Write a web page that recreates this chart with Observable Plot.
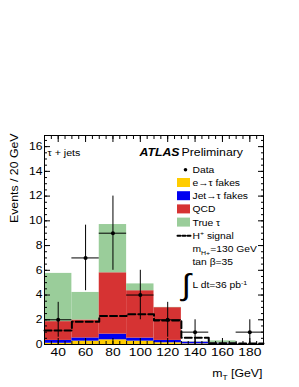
<!DOCTYPE html>
<html><head><meta charset="utf-8">
<script src="https://cdn.jsdelivr.net/npm/d3@7"></script>
<script src="https://cdn.jsdelivr.net/npm/@observablehq/plot@0.6"></script>
<style>
body{margin:0;background:#fff}
svg{font-family:"Liberation Sans",Arial,Helvetica,sans-serif}
</style>
</head><body><div id="chart"></div>
<script>
// ---- data ----
const binLow = [30, 50, 70, 90, 110, 130, 150, 170];
const binWidth = 20;
const components = ["e→τ fakes", "Jet→τ fakes", "QCD", "True τ"];
const componentColors = ["#ffcc00", "#0000f0", "#d63333", "#9acd9a"];
const eFakes   = [0.10, 0.27, 0.38, 0.27, 0.14, 0.05, 0.04, 0.02];
const jetFakes = [0.23, 0.26, 0.46, 0.25, 0.19, 0.14, 0.06, 0.02];
const qcd      = [1.52, 1.45, 4.96, 3.83, 2.65, 0.01, 0.02, 0.01];
const trueTau  = [3.90, 2.23, 3.90, 0.55, 0.02, 0.03, 0.17, 0.02];
const signal   = [1.13, 1.84, 2.30, 2.44, 1.94, 0.54, 0.10, 0.08];
const dataX   = [40, 60, 80, 100, 120, 140, 180];
const dataY   = [2, 7, 9, 4, 2, 1, 1];
const dataErr = [1.41, 2.65, 3.0, 2.0, 1.41, 1.0, 1.0];
const xTicks = [40, 60, 80, 100, 120, 140, 160, 180];
const xMinorTicks = [30,35,40,45,50,55,60,65,70,75,80,85,90,95,100,105,110,115,120,125,130,135,140,145,150,155,160,165,170,175,180,185,190];
const yTicks = [0, 2, 4, 6, 8, 10, 12, 14, 16];
const yMinorTicks = [0,0.5,1,1.5,2,2.5,3,3.5,4,4.5,5,5.5,6,6.5,7,7.5,8,8.5,9,9.5,10,10.5,11,11.5,12,12.5,13,13.5,14,14.5,15,15.5,16,16.5];
const legendLabels = ["Data", "e→τ fakes", "Jet→τ fakes", "QCD", "True τ", "H^{+} signal", "m_{H+}=130 GeV", "tan β=35"];
const lumiText = "L dt=36 pb^{-1}";

// ---- tables built from the arrays ----
const series = [eFakes, jetFakes, qcd, trueTau];
const stackTable = [];
binLow.forEach((lo, i) => components.forEach((c, k) =>
  stackTable.push({lo, hi: lo + binWidth, v: series[k][i], comp: c})));
const signalSteps = binLow.map((lo, i) => ({x: lo, y: signal[i]}))
  .concat([{x: binLow[binLow.length - 1] + binWidth, y: signal[signal.length - 1]}]);
const dataTable = dataX.map((x, i) => ({x, y: dataY[i], e: dataErr[i]}));

const rowY = i => 34.3 + 13.2 * i;
const lineShape = {draw(ctx, l) { ctx.moveTo(0, 0); ctx.lineTo(0, -l); }};
const legendFont = 9.2;

const marks = [
  Plot.rectY(stackTable, {x1: "lo", x2: "hi", y: "v", fill: "comp"}),
  Plot.line(signalSteps, {x: "x", y: "y", curve: "step-after", stroke: "black", strokeWidth: 2, strokeDasharray: "7,3"}),
  Plot.ruleX(dataTable, {x: "x", y1: d => d.y - d.e, y2: d => d.y + d.e, stroke: "black", strokeWidth: 1}),
  Plot.ruleY(dataTable, {y: "y", x1: d => d.x - binWidth / 2, x2: d => d.x + binWidth / 2, stroke: "black", strokeWidth: 1}),
  Plot.dot(dataTable, {x: "x", y: "y", r: 2, fill: "black", stroke: "none"}),
  Plot.frame({stroke: "black", strokeWidth: 1}),
  // axes with inward ticks
  Plot.axisX({anchor: "bottom", ticks: xTicks, tickSize: -6, tickPadding: 10, label: null, fontSize: 10.8}),
  Plot.axisX({anchor: "bottom", ticks: xMinorTicks, tickSize: -3, tickFormat: () => "", label: null}),
  Plot.axisX({anchor: "top", ticks: xTicks, tickSize: -6, tickFormat: () => "", label: null}),
  Plot.axisX({anchor: "top", ticks: xMinorTicks, tickSize: -3, tickFormat: () => "", label: null}),
  Plot.axisY({anchor: "left", ticks: yTicks, tickSize: -6, tickPadding: 8, label: null, fontSize: 10.5}),
  Plot.axisY({anchor: "left", ticks: yMinorTicks, tickSize: -3, tickFormat: () => "", label: null}),
  Plot.axisY({anchor: "right", ticks: yTicks, tickSize: -6, tickFormat: () => "", label: null}),
  Plot.axisY({anchor: "right", ticks: yMinorTicks, tickSize: -3, tickFormat: () => "", label: null}),
  // axis titles
  Plot.text(["Events / 20 GeV"], {frameAnchor: "top-left", dx: -30, dy: -2, rotate: -90, textAnchor: "end", lineAnchor: "middle", fontSize: 11, text: d => d}),
  Plot.text(["m_{T} [GeV]"], {frameAnchor: "bottom-right", dx: -1, dy: 32, textAnchor: "end", lineAnchor: "bottom", fontSize: 11, text: d => d}),
  // labels
  Plot.text(["τ + jets"], {frameAnchor: "top-left", dx: 3, dy: 20, textAnchor: "start", lineAnchor: "bottom", fontSize: 9.5, text: d => d}),
  Plot.text(["ATLAS"], {frameAnchor: "top-left", dx: 95, dy: 20, textAnchor: "start", lineAnchor: "bottom", fontSize: 11, fontWeight: "bold", fontStyle: "italic", ariaLabel: "atlas", text: d => d}),
  Plot.text(["Preliminary"], {frameAnchor: "top-left", dx: 137, dy: 20, textAnchor: "start", lineAnchor: "bottom", fontSize: 11, text: d => d}),
  // legend
  Plot.dot([0], {frameAnchor: "top-left", dx: 141, dy: rowY(0), r: 1.8, fill: "black", stroke: "none"}),
  ...components.map((c, k) => Plot.rect([c], {
    insetLeft: 133, insetRight: 73,
    insetTop: rowY(k + 1) - 4.5, insetBottom: 209 - rowY(k + 1) - 4.5,
    fill: componentColors[k]
  })),
  Plot.vector([0], {frameAnchor: "top-left", dx: 133, dy: rowY(5), length: 13, rotate: 90, anchor: "start", shape: lineShape, stroke: "black", strokeWidth: 2, strokeDasharray: "3,2"}),
  ...legendLabels.map((s, i) => Plot.text([s], {frameAnchor: "top-left", dx: 148, dy: rowY(i), textAnchor: "start", lineAnchor: "middle", fontSize: legendFont, text: d => d})),
  Plot.text(["∫"], {frameAnchor: "top-left", dx: 141.5, dy: 150, textAnchor: "middle", lineAnchor: "middle", fontSize: 30, ariaLabel: "integral", text: d => d}),
  Plot.text([lumiText], {frameAnchor: "top-left", dx: 148, dy: 150, textAnchor: "start", lineAnchor: "middle", fontSize: legendFont, text: d => d})
];

const chart = Plot.plot({
  width: 299, height: 387,
  marginLeft: 44, marginRight: 36, marginTop: 135, marginBottom: 43,
  style: {background: "white", fontFamily: "'Liberation Sans', Arial, Helvetica, sans-serif", overflow: "visible"},
  x: {domain: [30, 190]},
  y: {domain: [0, 16.9]},
  color: {domain: components, range: componentColors},
  marks
});
document.getElementById("chart").appendChild(chart);

// sub/superscripts as tspans
function richText(svg) {
  svg.querySelectorAll("text").forEach(t => {
    const s = t.textContent;
    if (!/[_^]\{/.test(s)) return;
    const fs = parseFloat(getComputedStyle(t).fontSize) || 10;
    t.textContent = "";
    const re = /([_^])\{([^}]*)\}/g;
    let last = 0, m, shift = 0;
    const add = (str, kind) => {
      const ts = document.createElementNS("http://www.w3.org/2000/svg", "tspan");
      ts.textContent = str;
      const target = kind === "_" ? 0.28 * fs : kind === "^" ? -0.4 * fs : 0;
      if (target !== shift) { ts.setAttribute("dy", target - shift); shift = target; }
      if (kind) ts.setAttribute("font-size", (fs * 0.68).toFixed(2));
      t.appendChild(ts);
    };
    while ((m = re.exec(s))) {
      if (m.index > last) add(s.slice(last, m.index), null);
      add(m[2], m[1]);
      last = re.lastIndex;
    }
    if (last < s.length) add(s.slice(last), null);
  });
}
richText(chart);

// horizontal stretch of glyphs to mimic the reference's wide lettering
function stretch(nodes, k) {
  nodes.forEach(t => {
    const tr = t.getAttribute("transform");
    if (tr) t.setAttribute("transform", tr + ` scale(${k},1)`);
    else {
      const x = t.getAttribute("x") || 0, y = t.getAttribute("y") || 0;
      t.removeAttribute("x"); t.removeAttribute("y");
      t.setAttribute("transform", `translate(${x},${y}) scale(${k},1)`);
    }
  });
}
const xLabels = chart.querySelectorAll('g[aria-label="x-axis tick label"] text');
const yLabels = chart.querySelectorAll('g[aria-label="y-axis tick label"] text');
stretch(xLabels, 1.28);
stretch(yLabels, 1.15);
stretch(chart.querySelectorAll('g[aria-label="integral"] text'), 0.6);
const others = [...chart.querySelectorAll("text")].filter(t => {
  const g = t.closest("g[aria-label]");
  const a = g ? g.getAttribute("aria-label") : "";
  return a !== "x-axis tick label" && a !== "y-axis tick label" && a !== "integral" && a !== "atlas";
});
stretch(others, 1.12);
</script>
</body></html>
